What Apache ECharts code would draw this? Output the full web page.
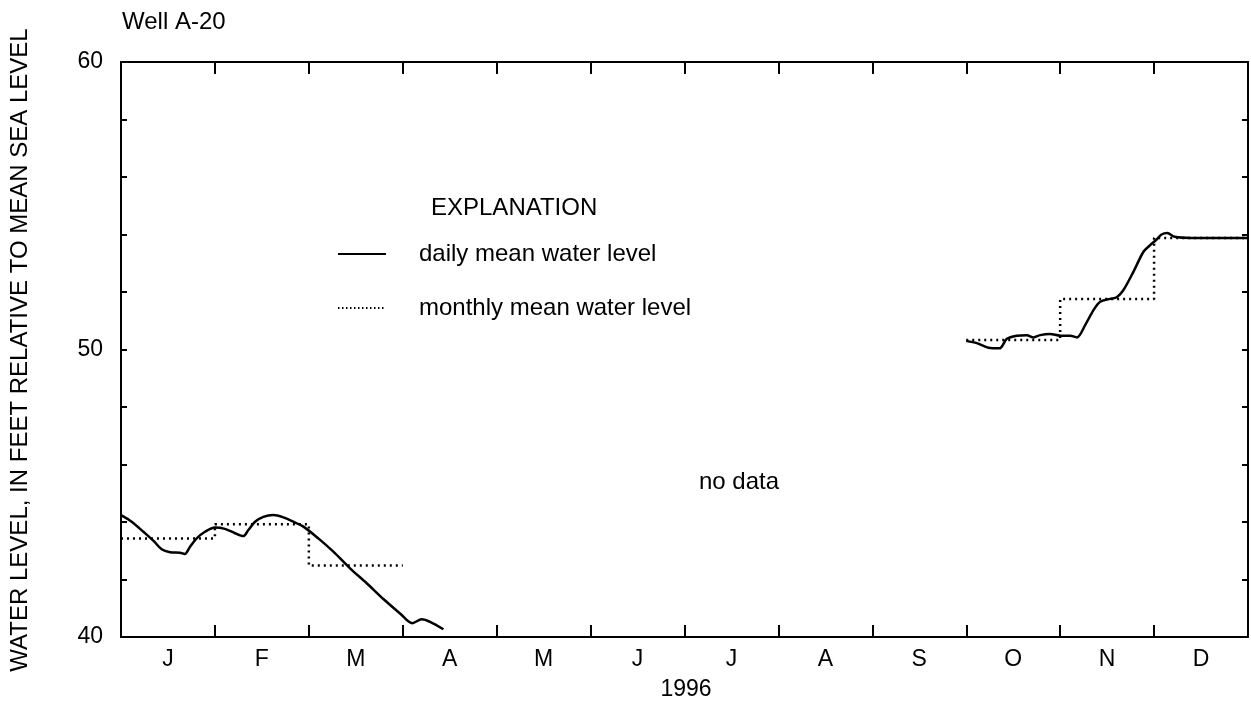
<!DOCTYPE html>
<html>
<head>
<meta charset="utf-8">
<script src="https://cdn.jsdelivr.net/npm/echarts@6/dist/echarts.min.js"></script>
<style>
html,body{margin:0;padding:0;background:#fff;}
#c{width:1251px;height:709px;}
</style>
</head>
<body>
<div id="c"></div>
<script>
// Month labels (x axis categories)
const monthLabels = ['J','F','M','A','M','J','J','A','S','O','N','D'];
// Y tick labels shown
const yLabelValues = [40, 50, 60];

// Daily mean water level, Jan–Apr (x in months from Jan 1, y in feet)
const dailyWinterX = [0,0.114,0.238,0.344,0.433,0.522,0.628,0.68,0.735,0.806,0.894,1.0,1.107,1.214,1.302,1.356,1.427,1.516,1.622,1.729,1.835,1.942,2.101,2.261,2.439,2.616,2.794,2.971,3.103,3.202,3.291,3.433];
const dailyWinterY = [44.24,44.01,43.66,43.35,43.05,42.95,42.93,42.89,43.14,43.43,43.66,43.81,43.76,43.61,43.51,43.72,44.01,44.18,44.24,44.16,44.01,43.84,43.43,42.97,42.39,41.87,41.32,40.82,40.48,40.62,40.53,40.27];

// Daily mean water level, Oct–Dec
const dailyFallX = [9.0,9.113,9.237,9.354,9.432,9.539,9.645,9.716,9.787,9.893,10.0,10.107,10.178,10.266,10.355,10.426,10.532,10.603,10.674,10.781,10.887,10.958,11.022,11.08,11.14,11.22,11.4,12.0];
const dailyFallY = [50.30,50.22,50.06,50.04,50.37,50.48,50.50,50.42,50.50,50.54,50.48,50.48,50.42,50.85,51.37,51.66,51.76,51.82,52.07,52.71,53.40,53.63,53.81,54.00,54.05,53.92,53.88,53.88];

// Monthly mean water level (month index -> value)
const monthlyWinterMonths = [0,1,2];
const monthlyWinterValues = [43.43,43.92,42.49];
const monthlyFallMonths = [9,10,11];
const monthlyFallValues = [50.33,51.76,53.88];

function zipXY(xs, ys){ return xs.map((x,i)=>[x, ys[i]]); }
function stepMonthly(months, values){
  const out = [];
  months.forEach((m,i)=>{ out.push([m, values[i]]); out.push([m+1, values[i]]); });
  return out;
}

const FONT = 'Liberation Sans, Arial, Helvetica, sans-serif';
const chart = echarts.init(document.getElementById('c'), null, {renderer:'canvas'});

const axisLine = {show:true, lineStyle:{color:'#000', width:2}};

chart.setOption({
  backgroundColor:'#fff',
  animation:false,
  grid:{left:121, right:3, top:62, bottom:72, containLabel:false},
  xAxis:[
    {type:'category', data:monthLabels, position:'bottom', boundaryGap:true,
     axisLine:axisLine, axisTick:{show:true, inside:true, length:12, lineStyle:{color:'#000', width:2}},
     axisLabel:{color:'#000', fontSize:23, fontFamily:FONT, margin:11}, splitLine:{show:false}},
    {type:'category', data:monthLabels, position:'top', boundaryGap:true,
     axisLine:axisLine, axisTick:{show:true, inside:true, length:12, lineStyle:{color:'#000', width:2}},
     axisLabel:{show:false}, splitLine:{show:false}},
    {type:'value', min:0, max:12, show:false}
  ],
  yAxis:[
    {type:'value', min:40, max:60, interval:2, position:'left',
     axisLine:axisLine, axisTick:{show:true, inside:true, length:6, lineStyle:{color:'#000', width:2}},
     axisLabel:{color:'#000', fontSize:23, fontFamily:FONT, margin:18,
       formatter:v=> yLabelValues.indexOf(v)>=0 ? String(v) : ''},
     splitLine:{show:false}},
    {type:'value', min:40, max:60, interval:2, position:'right',
     axisLine:axisLine, axisTick:{show:true, inside:true, length:6, lineStyle:{color:'#000', width:2}},
     axisLabel:{show:false}, splitLine:{show:false}}
  ],
  series:[
    {type:'line', xAxisIndex:2, yAxisIndex:0, data:zipXY(dailyWinterX, dailyWinterY), smooth:0.3,
     showSymbol:false, lineStyle:{color:'#000', width:2.5}},
    {type:'line', xAxisIndex:2, yAxisIndex:0, data:zipXY(dailyFallX, dailyFallY), smooth:0.3,
     showSymbol:false, lineStyle:{color:'#000', width:2.5}},
    {type:'line', xAxisIndex:2, yAxisIndex:0, data:stepMonthly(monthlyWinterMonths, monthlyWinterValues),
     showSymbol:false, lineStyle:{color:'#000', width:2.5, type:[2,4]}},
    {type:'line', xAxisIndex:2, yAxisIndex:0, data:stepMonthly(monthlyFallMonths, monthlyFallValues),
     showSymbol:false, lineStyle:{color:'#000', width:2.5, type:[2,4]}}
  ],
  graphic:[
    {type:'text', x:122, y:22, style:{text:'Well A-20', fill:'#000', font:'24px '+FONT, align:'left', verticalAlign:'middle'}},
    {type:'text', x:20, y:350, rotation:Math.PI/2,
     style:{text:'WATER LEVEL, IN FEET RELATIVE TO MEAN SEA LEVEL', fill:'#000', font:'24px '+FONT, align:'center', verticalAlign:'middle'}},
    {type:'text', x:686, y:690, style:{text:'1996', fill:'#000', font:'23px '+FONT, align:'center', verticalAlign:'middle'}},
    {type:'text', x:739, y:482, style:{text:'no data', fill:'#000', font:'24px '+FONT, align:'center', verticalAlign:'middle'}},
    {type:'text', x:431, y:208, style:{text:'EXPLANATION', fill:'#000', font:'24px '+FONT, align:'left', verticalAlign:'middle'}},
    {type:'line', shape:{x1:338, y1:254, x2:386, y2:254}, style:{stroke:'#000', lineWidth:2}},
    {type:'text', x:419, y:254, style:{text:'daily mean water level', fill:'#000', font:'24px '+FONT, align:'left', verticalAlign:'middle'}},
    {type:'line', shape:{x1:338, y1:308, x2:386, y2:308}, style:{stroke:'#000', lineWidth:2, lineDash:[1.5,2.5]}},
    {type:'text', x:419, y:308, style:{text:'monthly mean water level', fill:'#000', font:'24px '+FONT, align:'left', verticalAlign:'middle'}}
  ]
});
</script>
</body>
</html>
